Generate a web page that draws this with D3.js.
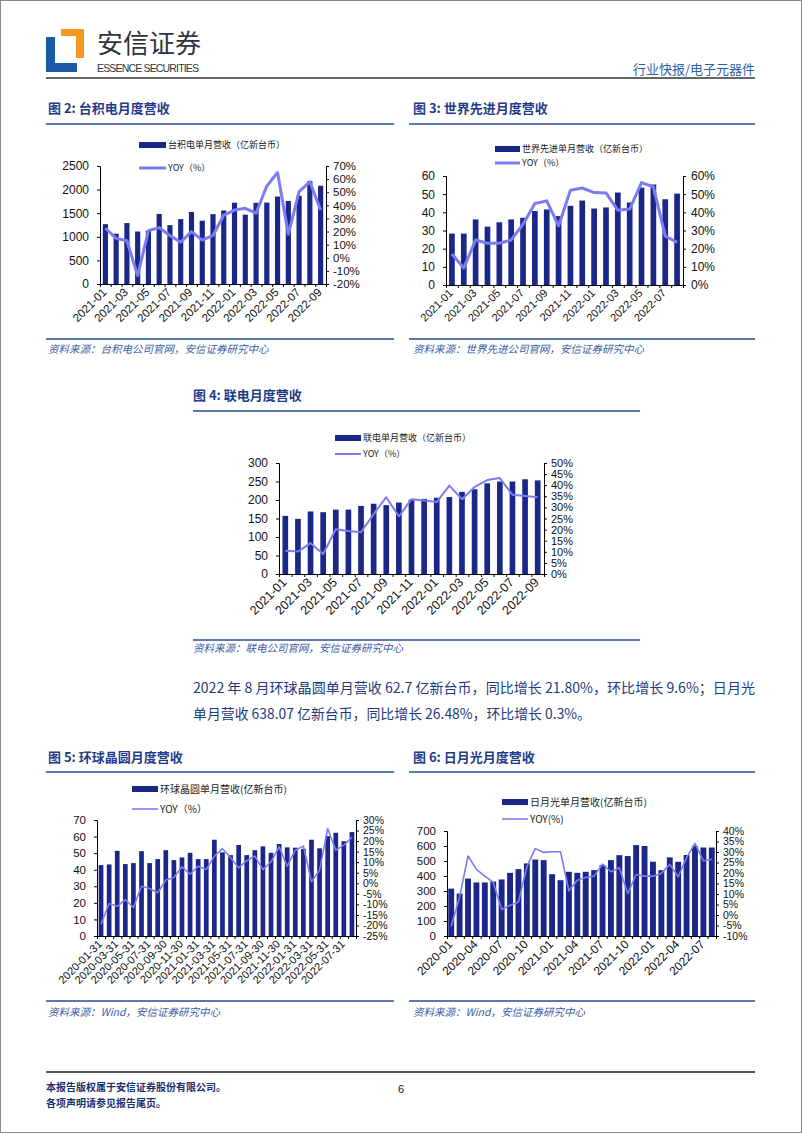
<!DOCTYPE html>
<html><head><meta charset="utf-8">
<script src="https://cdn.jsdelivr.net/npm/d3@7"></script>
<style>body{margin:0;background:#fff}svg{display:block}</style>
</head><body><svg id="c" width="802" height="1133"></svg>
<script>
// ---------------- DATA ----------------
const tsmcCats = ["2021-01","2021-02","2021-03","2021-04","2021-05","2021-06","2021-07","2021-08","2021-09","2021-10","2021-11","2021-12","2022-01","2022-02","2022-03","2022-04","2022-05","2022-06","2022-07","2022-08","2022-09"];
const tsmcRev = [1267,1065,1291,1112,1129,1485,1247,1375,1527,1342,1480,1557,1722,1469,1719,1726,1853,1758,1868,2181,2082];
const tsmcYoy = [22.5,14.8,13,-13.6,20.7,23,17,11.8,20,13.5,17,32.6,36.4,37.7,34,54.7,65,18,50.4,58,36.4];

const visCats = ["2021-01","2021-02","2021-03","2021-04","2021-05","2021-06","2021-07","2021-08","2021-09","2021-10","2021-11","2021-12","2022-01","2022-02","2022-03","2022-04","2022-05","2022-06","2022-07","2022-08"];
const visRev = [28.3,28.3,36.1,32.1,34.5,36.1,37.0,40.7,41.6,37.9,43.6,46.5,42.1,42.7,50.9,45.4,53.6,55.3,47.2,50.3];
const visYoy = [17.1,9.3,24.8,23,23,24.8,33.4,44.9,46.3,32.5,52.2,53.4,50.9,50.7,41.2,41.8,56.4,54,27,23.5];

const umcCats = ["2021-01","2021-02","2021-03","2021-04","2021-05","2021-06","2021-07","2021-08","2021-09","2021-10","2021-11","2021-12","2022-01","2022-02","2022-03","2022-04","2022-05","2022-06","2022-07","2022-08","2022-09"];
const umcRev = [157,149,169,167,174,174,184,190,186,193,201,203,206,208,222,229,245,250,250,256,253];
const umcYoy = [10.5,10.1,13.9,9,20.2,19.4,18.8,27,34.6,25.9,33.7,33.1,32.4,39.8,33.7,39.2,42.3,43.2,35.7,35.1,34.6];

const gwCats = ["2020-01-31","2020-02-29","2020-03-31","2020-04-30","2020-05-31","2020-06-30","2020-07-31","2020-08-31","2020-09-30","2020-10-31","2020-11-30","2020-12-31","2021-01-31","2021-02-28","2021-03-31","2021-04-30","2021-05-31","2021-06-30","2021-07-31","2021-08-31","2021-09-30","2021-10-31","2021-11-30","2021-12-31","2022-01-31","2022-02-28","2022-03-31","2022-04-30","2022-05-31","2022-06-30","2022-07-31","2022-08-31"];
const gwRev = [42.8,43.2,51.4,43.4,44,51.2,44,46.4,51.8,45.8,47.4,50.2,46.4,46.4,58.1,50.5,48.8,54.9,48.8,51.8,54.1,50.2,55.5,53.5,53.3,52.6,58.1,52.9,60.3,62.3,57.2,62.7];
const gwYoy = [-19.4,-9.6,-10.9,-7.7,-11.5,-1.4,-2.5,-4.5,1.5,2.7,7.8,4.3,8.1,6.5,12.9,16.4,12.2,7.3,10.7,12.9,6.5,10.2,17.3,8.1,15.7,17.6,0.7,6.2,26.0,15.7,18.1,21.8];

const aseCats = ["2020-01","2020-02","2020-03","2020-04","2020-05","2020-06","2020-07","2020-08","2020-09","2020-10","2020-11","2020-12","2021-01","2021-02","2021-03","2021-04","2021-05","2021-06","2021-07","2021-08","2021-09","2021-10","2021-11","2021-12","2022-01","2022-02","2022-03","2022-04","2022-05","2022-06","2022-07","2022-08"];
const aseRev = [316,283,383,357,357,363,377,421,446,484,510,506,412,372,428,421,428,439,473,506,539,533,606,600,495,439,524,495,540,600,590,590];
const aseYoy = [-5.4,8.6,28.1,21.7,18.5,15.5,2.6,4.6,6.2,23,31.6,29.8,30.1,30.1,11.5,16.6,17.9,18.5,24.2,20.6,22.5,10.2,19.3,18.5,18.5,19.8,24.1,18.2,27.3,34.1,25.8,26.5];

const tsmcLTicks = [0,500,1000,1500,2000,2500];
const tsmcRTicks = [-20,-10,0,10,20,30,40,50,60,70];
const visLTicks = [0,10,20,30,40,50,60];
const visRTicks = [0,10,20,30,40,50,60];
const umcLTicks = [0,50,100,150,200,250,300];
const umcRTicks = [0,5,10,15,20,25,30,35,40,45,50];
const gwLTicks = [0,10,20,30,40,50,60,70];
const gwRTicks = [-25,-20,-15,-10,-5,0,5,10,15,20,25,30];
const aseLTicks = [0,100,200,300,400,500,600,700];
const aseRTicks = [-10,-5,0,5,10,15,20,25,30,35,40];

// ---------------- STYLE ----------------
const BAR = "#1b2689";
const LINE = "#7b7cf2";
const BLUE = "#1f3c8c";
const NUM = "'Liberation Sans', Arial, sans-serif";
const CJK = "'Noto Sans CJK SC', 'Liberation Sans', sans-serif";

const svg = d3.select("#c");
svg.append("rect").attr("x",0.5).attr("y",0.5).attr("width",801).attr("height",1132).attr("fill","#fff").attr("stroke","#8a8a8a");

// ---------------- HEADER ----------------
svg.append("path").attr("d","M46,37 L55,37 L55,63 L77,63 L77,72 L46,72 Z").attr("fill","#1b5aa6");
svg.append("path").attr("d","M61,29 L84,29 L84,58 L76,58 L76,36 L61,36 Z").attr("fill","#f29a1f");
svg.append("text").attr("x",97).attr("y",53).text("安信证券").style("font-family",CJK).style("font-size","26px").attr("fill","#2d3540");
svg.append("text").attr("x",97).attr("y",72).text("ESSENCE SECURITIES").style("font-family","'Liberation Sans Narrow','Liberation Sans',sans-serif").style("font-size","10.5px").attr("fill","#2d3540").attr("textLength",102);
svg.append("text").attr("x",755).attr("y",74).attr("text-anchor","end").text("行业快报/电子元器件").style("font-family",CJK).style("font-size","13px").attr("fill","#2f5fa8");
svg.append("line").attr("x1",46).attr("x2",755).attr("y1",78).attr("y2",78).attr("stroke","#333").attr("stroke-width",1.5);

function title(x, y, t){
  svg.append("text").attr("x",x).attr("y",y).text(t).style("font-family",CJK).style("font-size","13px").style("font-weight","bold").attr("fill",BLUE);
}
function hline(x1,x2,y,c,w){
  svg.append("line").attr("x1",x1).attr("x2",x2).attr("y1",y).attr("y2",y).attr("stroke",c||"#2c4a9a").attr("stroke-width",w||1.5);
}
function source(x, y, t){
  svg.append("text").attr("x",x).attr("y",y).text(t).style("font-family",CJK).style("font-size","10.5px").style("font-style","italic").attr("fill","#3a5ca8");
}

title(48,113,"图 2: 台积电月度营收");
title(413,113,"图 3: 世界先进月度营收");
hline(46,394,124); hline(409,755,124);
hline(46,394,339); hline(409,755,339);
source(48,353,"资料来源：台积电公司官网，安信证券研究中心");
source(413,353,"资料来源：世界先进公司官网，安信证券研究中心");

title(193,400,"图 4: 联电月度营收");
hline(193,640,411); hline(193,640,640);
source(193,652,"资料来源：联电公司官网，安信证券研究中心");

svg.append("text").attr("x",193).attr("y",693).text("2022 年 8 月环球晶圆单月营收 62.7 亿新台币，同比增长 21.80%，环比增长 9.6%；日月光")
  .style("font-family",CJK).style("font-size","14px").attr("fill","#1f3a80").attr("textLength",562).attr("lengthAdjust","spacingAndGlyphs");
svg.append("text").attr("x",193).attr("y",719).text("单月营收 638.07 亿新台币，同比增长 26.48%，环比增长 0.3%。")
  .style("font-family",CJK).style("font-size","14px").attr("fill","#1f3a80").attr("textLength",398).attr("lengthAdjust","spacingAndGlyphs");

title(48,762,"图 5: 环球晶圆月度营收");
title(413,762,"图 6: 日月光月度营收");
hline(46,394,772); hline(409,755,772);
hline(46,394,1001); hline(409,755,1001);
source(48,1016,"资料来源：Wind，安信证券研究中心");
source(413,1016,"资料来源：Wind，安信证券研究中心");

hline(46,755,1072,"#222",1.5);
svg.append("text").attr("x",46).attr("y",1091).text("本报告版权属于安信证券股份有限公司。").style("font-family",CJK).style("font-size","10px").style("font-weight","bold").attr("fill","#1a2f70");
svg.append("text").attr("x",46).attr("y",1107).text("各项声明请参见报告尾页。").style("font-family",CJK).style("font-size","10px").style("font-weight","bold").attr("fill","#1a2f70");
svg.append("text").attr("x",401).attr("y",1093).attr("text-anchor","middle").text("6").style("font-family",NUM).style("font-size","11px").attr("fill","#222");

// ---------------- CHART FUNCTION ----------------
function drawChart(o){
  const g = svg.append("g");
  const x = d3.scaleBand().domain(o.cats).range([o.l, o.r]).paddingInner(o.pad).paddingOuter(o.pad/2);
  const yL = d3.scaleLinear().domain([o.lTicks[0], o.lTicks[o.lTicks.length-1]]).range([o.b, o.t]);
  const yR = d3.scaleLinear().domain([o.rTicks[0], o.rTicks[o.rTicks.length-1]]).range([o.b, o.t]);

  g.selectAll("rect.bar").data(o.bars).join("rect").attr("class","bar")
    .attr("x",(d,i)=>x(o.cats[i])).attr("y",d=>yL(d))
    .attr("width",x.bandwidth()).attr("height",d=>yL(0)-yL(d)).attr("fill",BAR);

  const la = g.append("g").attr("transform",`translate(${o.l},0)`)
    .call(d3.axisLeft(yL).tickValues(o.lTicks).tickSize(3).tickPadding(o.lpad).tickFormat(d3.format("d")));
  la.select(".domain").attr("stroke","#000");
  la.selectAll("text").style("font-family",NUM).style("font-size",o.lfs+"px").attr("fill","#111");
  const ra = g.append("g").attr("transform",`translate(${o.r},0)`)
    .call(d3.axisRight(yR).tickValues(o.rTicks).tickSize(3).tickPadding(o.rpad).tickFormat(d=>d+"%"));
  ra.select(".domain").attr("stroke","#000");
  ra.selectAll("text").style("font-family",NUM).style("font-size",o.rfs+"px").attr("fill","#111");
  const xa = g.append("g").attr("transform",`translate(0,${o.b})`)
    .call(d3.axisBottom(x).tickSize(0).tickFormat((d,i)=> i % o.step === 0 ? d : ""));
  xa.select(".domain").attr("stroke","#000");
  xa.selectAll("text").attr("y",0).attr("x",0).attr("dy","0.35em")
    .attr("transform","translate(-1,6) rotate(-45)").style("text-anchor","end")
    .style("font-family",NUM).style("font-size",o.xfs+"px").attr("fill","#111");
  const bscale = d3.scaleLinear().domain([0, o.cats.length]).range([o.l, o.r]);
  g.append("g").attr("transform",`translate(0,${o.b})`)
    .call(d3.axisBottom(bscale).tickValues(d3.range(0, o.cats.length+1)).tickSize(3).tickFormat(""))
    .call(s=>s.select(".domain").remove());

  const line = d3.line().x((d,i)=>x(o.cats[i])+x.bandwidth()/2).y(d=>yR(d));
  g.append("path").datum(o.yoy).attr("d",line).attr("fill","none")
    .attr("stroke",LINE).attr("stroke-width",o.lw).attr("stroke-linejoin","round");

  const L = o.leg;
  g.append("rect").attr("x",L.x).attr("y",L.y1-3).attr("width",L.w).attr("height",6).attr("fill",BAR);
  g.append("text").attr("x",L.x+L.w+2).attr("y",L.y1).attr("dy","0.35em").text(L.t1)
    .style("font-family",CJK).style("font-size",L.fs+"px").attr("fill","#222");
  g.append("line").attr("x1",L.x).attr("x2",L.x+L.w).attr("y1",L.y2).attr("y2",L.y2).attr("stroke",LINE).attr("stroke-width",o.lw);
  g.append("text").attr("x",L.x+L.w+2).attr("y",L.y2).attr("dy","0.35em").text(L.t2)
    .style("font-family",CJK).style("font-size",L.fs+"px").attr("fill","#222");
}

drawChart({cats:tsmcCats,bars:tsmcRev,yoy:tsmcYoy,lTicks:tsmcLTicks,rTicks:tsmcRTicks,
  l:100,r:326,t:166,b:284,pad:0.52,step:2,lw:3,lfs:12,rfs:11.5,xfs:11.5,lpad:8,rpad:4,
  leg:{x:139,w:27,y1:145,y2:168,fs:9,t1:"台积电单月营收（亿新台币）",t2:"YOY（%）"}});
drawChart({cats:visCats,bars:visRev,yoy:visYoy,lTicks:visLTicks,rTicks:visRTicks,
  l:446,r:683,t:176,b:285,pad:0.52,step:2,lw:3,lfs:12,rfs:12,xfs:11,lpad:8,rpad:5,
  leg:{x:495,w:25,y1:149,y2:163,fs:9,t1:"世界先进单月营收（亿新台币）",t2:"YOY（%）"}});
drawChart({cats:umcCats,bars:umcRev,yoy:umcYoy,lTicks:umcLTicks,rTicks:umcRTicks,
  l:279,r:544,t:463,b:574,pad:0.55,step:2,lw:2,lfs:12,rfs:11,xfs:12.5,lpad:8,rpad:4,
  leg:{x:335,w:26,y1:438,y2:454,fs:9,t1:"联电单月营收（亿新台币）",t2:"YOY（%）"}});
drawChart({cats:gwCats,bars:gwRev,yoy:gwYoy,lTicks:gwLTicks,rTicks:gwRTicks,
  l:97,r:356,t:820,b:936,pad:0.42,step:2,lw:1.6,lfs:11.5,rfs:10.5,xfs:11,lpad:8,rpad:4,
  leg:{x:132,w:26,y1:789,y2:809,fs:10,t1:"环球晶圆单月营收(亿新台币)",t2:"YOY（%）"}});
drawChart({cats:aseCats,bars:aseRev,yoy:aseYoy,lTicks:aseLTicks,rTicks:aseRTicks,
  l:447,r:716,t:831,b:936,pad:0.3,step:3,lw:1.6,lfs:11.5,rfs:10.5,xfs:12,lpad:8,rpad:4,
  leg:{x:502,w:26,y1:802,y2:819,fs:10,t1:"日月光单月营收(亿新台币)",t2:"YOY(%)"}});
</script></body></html>
